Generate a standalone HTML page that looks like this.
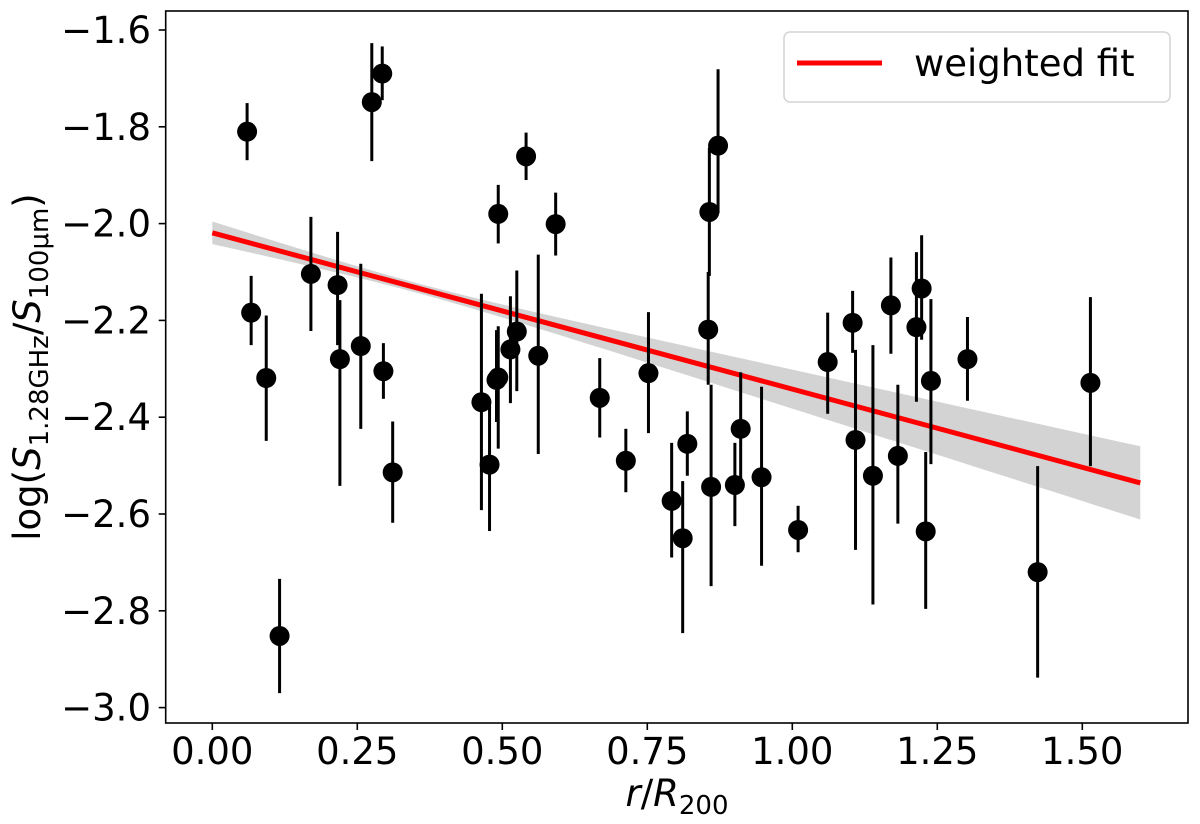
<!DOCTYPE html>
<html><head><meta charset="utf-8"><style>
html,body{margin:0;padding:0;background:#fff;}
svg{display:block;font-family:"DejaVu Sans","Liberation Sans",sans-serif;}
</style></head><body>
<svg id="chart" width="1200" height="824" viewBox="0 0 1200 824" xmlns="http://www.w3.org/2000/svg">
<rect x="0" y="0" width="1200" height="824" fill="#fff"/>
<g id="band"></g>
<g id="fitline"></g>
<g id="points"></g>
<rect x="165.7" y="11" width="1022.3" height="712" fill="none" stroke="#000" stroke-width="1.6"/>
<g id="xticks"></g>
<g id="yticks"></g>
<text x="677" y="806" font-size="37" text-anchor="middle"><tspan font-style="italic">r</tspan>/<tspan font-style="italic">R</tspan><tspan font-size="26" dy="8">200</tspan></text>
<text transform="translate(40,367) rotate(-90)" font-size="37" text-anchor="middle">log(<tspan font-style="italic">S</tspan><tspan font-size="26" dy="8">1.28GHz</tspan><tspan dy="-8">/</tspan><tspan font-style="italic">S</tspan><tspan font-size="26" dy="8">100μm</tspan><tspan dy="-8">)</tspan></text>
<g>
<rect x="784" y="32" width="386" height="70" rx="6" fill="#fff" stroke="#d4d4d4" stroke-width="1.5"/>
<line x1="797" y1="63" x2="882" y2="63" stroke="#ff0000" stroke-width="5"/>
<text x="914" y="76" font-size="37">weighted fit</text>
</g>
</svg>
<script>
const xs = [0.060,0.067,0.093,0.116,0.170,0.216,0.220,0.256,0.275,0.293,0.295,0.311,0.464,0.478,0.493,0.490,0.493,0.514,0.525,0.541,0.562,0.592,0.668,0.713,0.752,0.792,0.811,0.819,0.857,0.872,0.855,0.860,0.901,0.911,0.947,1.010,1.061,1.104,1.109,1.139,1.170,1.182,1.214,1.223,1.239,1.230,1.302,1.423,1.514];
const ys = [-1.810,-2.184,-2.319,-2.852,-2.104,-2.127,-2.280,-2.253,-1.749,-1.690,-2.305,-2.514,-2.369,-2.498,-2.318,-2.323,-1.980,-2.260,-2.223,-1.861,-2.273,-2.001,-2.360,-2.490,-2.309,-2.573,-2.650,-2.455,-1.976,-1.839,-2.219,-2.544,-2.540,-2.424,-2.524,-2.633,-2.286,-2.205,-2.447,-2.521,-2.169,-2.480,-2.214,-2.134,-2.325,-2.636,-2.280,-2.720,-2.329];
const yHi = [-1.751,-2.108,-2.190,-2.734,-1.986,-2.017,-2.158,-2.083,-1.627,-1.634,-2.247,-2.409,-2.145,-2.375,-2.212,-2.220,-1.920,-2.150,-2.097,-1.812,-2.064,-1.936,-2.278,-2.424,-2.183,-2.453,-2.532,-2.388,-1.843,-1.681,-2.100,-2.333,-2.453,-2.307,-2.337,-2.583,-2.184,-2.139,-2.261,-2.251,-2.070,-2.333,-2.059,-2.024,-2.156,-2.472,-2.193,-2.501,-2.152];
const yLo = [-1.869,-2.251,-2.449,-2.970,-2.222,-2.251,-2.542,-2.424,-1.871,-1.745,-2.362,-2.618,-2.592,-2.635,-2.465,-2.410,-2.041,-2.371,-2.346,-1.910,-2.476,-2.066,-2.442,-2.555,-2.433,-2.690,-2.846,-2.521,-2.108,-1.978,-2.333,-2.749,-2.625,-2.550,-2.707,-2.679,-2.393,-2.267,-2.674,-2.787,-2.269,-2.620,-2.368,-2.240,-2.497,-2.796,-2.366,-2.938,-2.501];
const fitIntercept = -2.019;
const fitSlope = -0.323;
const fitRange = [0, 1.6];
const xTickValues = [0, 0.25, 0.5, 0.75, 1.0, 1.25, 1.5];
const xTickLabels = ["0.00","0.25","0.50","0.75","1.00","1.25","1.50"];
const yTickValues = [-1.6,-1.8,-2.0,-2.2,-2.4,-2.6,-2.8,-3.0];
const yTickLabels = ["\u22121.6","\u22121.8","\u22122.0","\u22122.2","\u22122.4","\u22122.6","\u22122.8","\u22123.0"];

const NS = "http://www.w3.org/2000/svg";
function X(v){ return 212.3 + v*580; }
function Y(v){ return 30 + (-1.6 - v)*484; }
function mk(tag, attrs, parent){ const e=document.createElementNS(NS,tag); for(const k in attrs) e.setAttribute(k,attrs[k]); parent.appendChild(e); return e; }

// band
function halfW(x){ return Math.sqrt(0.01*0.01 + Math.pow(0.06*(x-0.35),2)); }
const bandG=document.getElementById('band');
let up=[], dn=[];
for(let i=0;i<=40;i++){ const x=fitRange[0]+(fitRange[1]-fitRange[0])*i/40; const yc=fitIntercept+fitSlope*x; up.push(X(x).toFixed(1)+','+Y(yc+halfW(x)).toFixed(1)); dn.unshift(X(x).toFixed(1)+','+Y(yc-halfW(x)).toFixed(1)); }
const band=mk('polygon',{points:up.concat(dn).join(' '),fill:'#d3d3d3'},bandG);



const lg=document.getElementById('fitline');
const fl=mk('line',{x1:X(fitRange[0]),y1:Y(fitIntercept+fitSlope*fitRange[0]),x2:X(fitRange[1]),y2:Y(fitIntercept+fitSlope*fitRange[1]),stroke:'#ff0000','stroke-width':5},lg);



const pg=document.getElementById('points');
for(let i=0;i<xs.length;i++){
  const eb=mk('line',{x1:X(xs[i]),x2:X(xs[i]),y1:Y(yHi[i]),y2:Y(yLo[i]),stroke:'#000','stroke-width':3},pg);
  
  
}
for(let i=0;i<xs.length;i++){
  const c=mk('circle',{cx:X(xs[i]),cy:Y(ys[i]),r:10,fill:'#000'},pg);
  
  
}

const xg=document.getElementById('xticks');
for(let i=0;i<xTickValues.length;i++){
  const x=X(xTickValues[i]);
  const t=mk('line',{x1:x,x2:x,y1:723,y2:730,stroke:'#000','stroke-width':1.6},xg);
  
  
  const l=mk('text',{x:x,y:764,'font-size':37,'text-anchor':'middle'},xg);
  l.textContent=xTickLabels[i];
  
  
}
const yg=document.getElementById('yticks');
for(let i=0;i<yTickValues.length;i++){
  const y=Y(yTickValues[i]);
  const t=mk('line',{x1:158.7,x2:165.7,y1:y,y2:y,stroke:'#000','stroke-width':1.6},yg);
  
  
  const l=mk('text',{x:151,y:y+13,'font-size':37,'text-anchor':'end'},yg);
  l.textContent=yTickLabels[i];
  
  
}
</script>
</body></html>
